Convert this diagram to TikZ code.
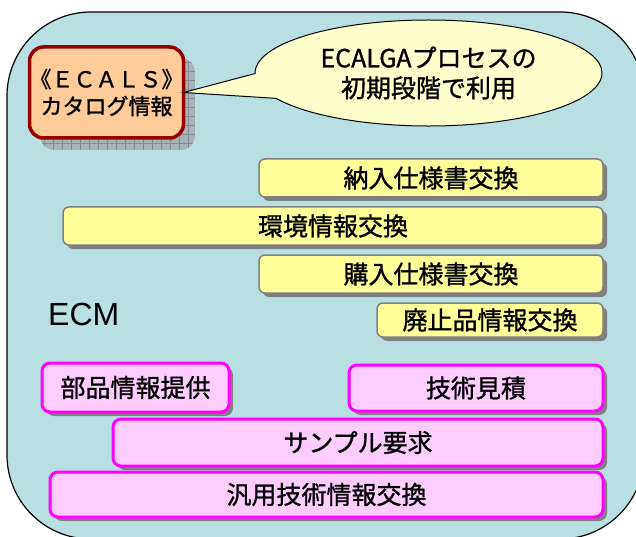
\documentclass[tikz,border=0pt]{standalone}
\usepackage{fontspec}
\setmainfont{Noto Sans CJK JP}[FakeBold=1.2]
\newfontfamily\latinsans{Liberation Sans}
\usetikzlibrary{shapes.callouts,shadows}
\definecolor{ecmbg}{RGB}{186,223,227}
\definecolor{ybarfill}{RGB}{255,255,153}
\definecolor{ybardraw}{RGB}{128,128,128}
\definecolor{pbarfill}{RGB}{255,204,255}
\definecolor{pbardraw}{RGB}{255,0,255}
\definecolor{shgray}{RGB}{128,128,128}
\definecolor{ecalsfill}{RGB}{255,204,153}
\definecolor{ecalsdraw}{RGB}{150,0,0}
\definecolor{callfill}{RGB}{255,255,204}
\definecolor{gridfill}{RGB}{166,180,185}
\definecolor{gridline}{RGB}{128,138,143}
\tikzset{
  barbase/.style={rectangle, inner sep=0pt, outer sep=0pt, font=\fontsize{25}{30}\selectfont, text=black},
  ybar/.style={barbase, rounded corners=6, fill=ybarfill, draw=ybardraw, line width=1.5pt,
    drop shadow={shadow xshift=4pt, shadow yshift=-4pt, fill=shgray, opacity=1}},
  pbar/.style={barbase, rounded corners=8, fill=pbarfill, draw=pbardraw, line width=3pt,
    drop shadow={shadow xshift=4pt, shadow yshift=-4pt, fill=shgray, opacity=1}},
}
\begin{document}
\begin{tikzpicture}[x=1pt,y=-1pt]
\useasboundingbox (0,0) rectangle (636,537);
% background panel
\begin{scope}
  \clip (0,0) rectangle (636,537);
  \draw[fill=ecmbg, line width=1.2pt, rounded corners=84] (7,12) rectangle (644,539);
\end{scope}
% ECALS grid shadow
\begin{scope}
  \clip[rounded corners=14] (40,58) rectangle (195,150);
  \fill[gridfill] (40,58) rectangle (195,150);
  \foreach \gx in {44,53,...,195} \draw[gridline, line width=0.6pt] (\gx,58) -- (\gx,150);
  \foreach \gy in {62,71,...,150} \draw[gridline, line width=0.6pt] (40,\gy) -- (195,\gy);
\end{scope}
% ECALS box
\node[rectangle, rounded corners=14, fill=ecalsfill, draw=ecalsdraw, line width=3.5pt,
  minimum width=153pt, minimum height=91pt, inner sep=0pt, outer sep=0pt, align=center,
  font=\fontsize{22}{27}\selectfont] (ecals) at (106.5,92.5) {《ＥＣＡＬＳ》\\カタログ情報};
% callout
\node[ellipse callout, draw=black, fill=callfill, line width=1pt, inner sep=0pt,
  minimum width=347pt, minimum height=106pt, callout pointer arc=28,
  callout absolute pointer={(ecals.east)}, align=center,
  font=\fontsize{25}{30}\selectfont] (call) at (428.5,73) {ECALGAプロセスの\\初期段階で利用};
% yellow bars
\node[ybar, minimum width=344pt, minimum height=38pt] (nonyu) at (431,178) {納入仕様書交換};
\node[ybar, minimum width=540pt, minimum height=38pt] (kankyo) at (333,226) {環境情報交換};
\node[ybar, minimum width=344pt, minimum height=38pt] (konyu) at (431,274) {購入仕様書交換};
\node[ybar, minimum width=226pt, minimum height=34pt] (haishi) at (490,320) {廃止品情報交換};
% ECM label
\node[anchor=base west, inner sep=0pt, font=\latinsans\fontsize{32}{36}\selectfont] (ecm) at (48,325) {ECM};
% pink bars
\node[pbar, minimum width=187pt, minimum height=49pt] (buhin) at (135.5,387.5) {部品情報提供};
\node[pbar, minimum width=254pt, minimum height=46pt] (mitsumori) at (476,388) {技術見積};
\node[pbar, minimum width=490pt, minimum height=47pt] (sample) at (358,442.5) {サンプル要求};
\node[pbar, minimum width=553pt, minimum height=45pt] (hanyo) at (326.5,494.5) {汎用技術情報交換};
\end{tikzpicture}
\end{document}
